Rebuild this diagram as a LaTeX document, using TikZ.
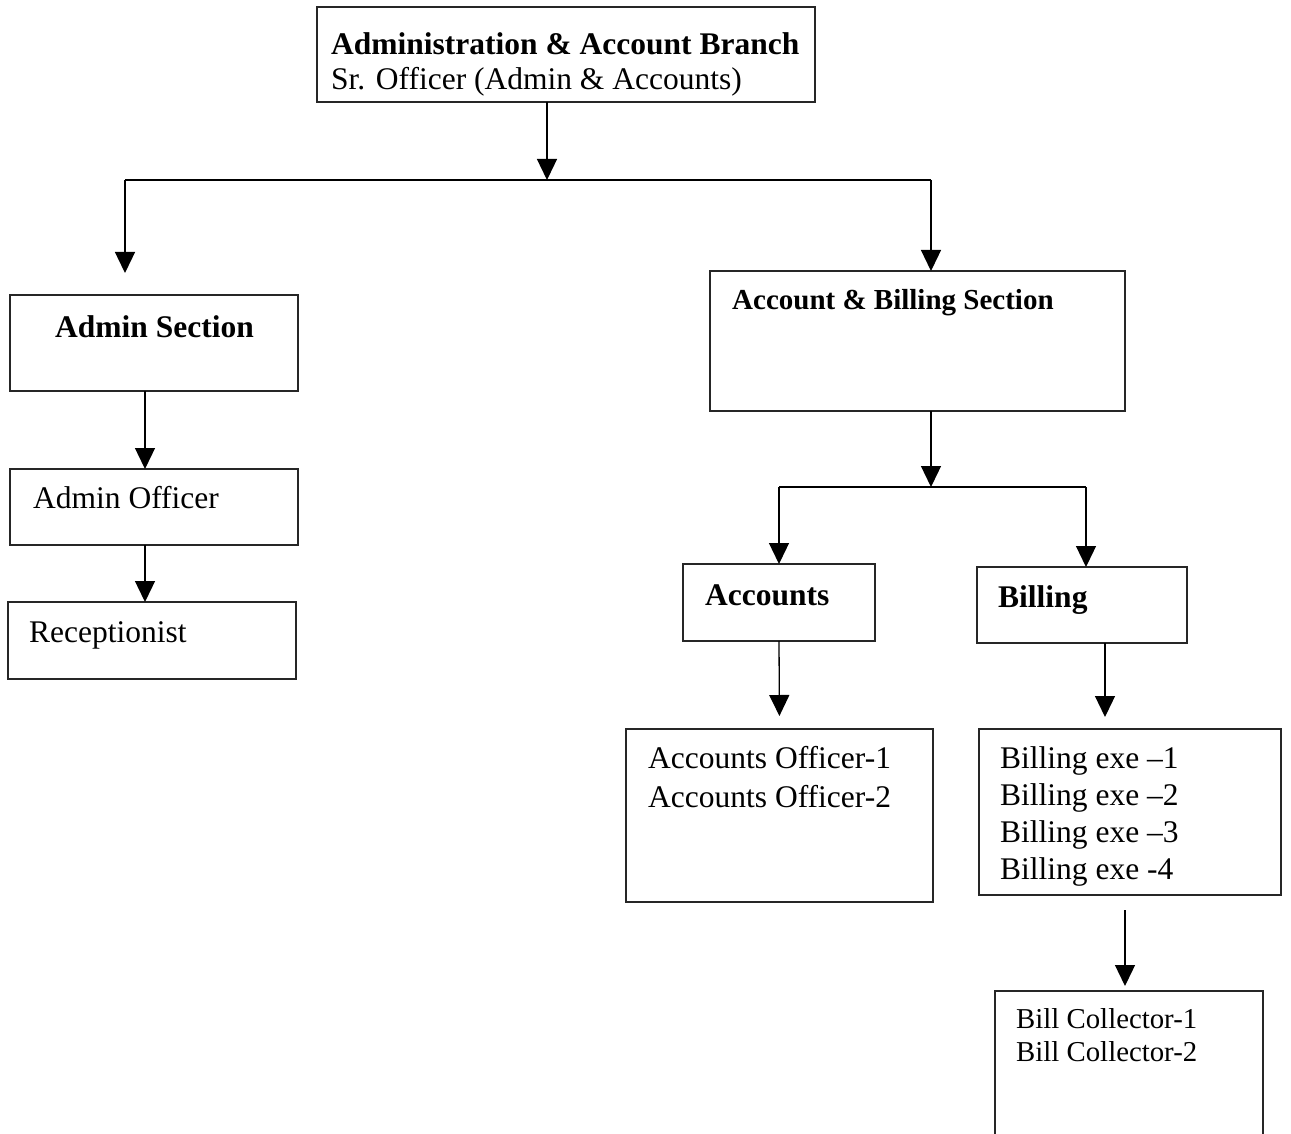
\documentclass[tikz,border=0pt]{standalone}
\usepackage{fontspec}
\setmainfont{Liberation Serif}
\usetikzlibrary{arrows.meta}

\tikzset{
	box/.style={draw=black!85, line width=1.3pt, fill=none, inner sep=0pt, outer sep=0pt, anchor=north west},
	txt/.style={black, anchor=base west, inner sep=0pt, font=\fontsize{31.5}{37}\selectfont},
	midtxt/.style={black, anchor=base west, inner sep=0pt, font=\fontsize{29}{34}\selectfont},
	smalltxt/.style={black, anchor=base west, inner sep=0pt, font=\fontsize{28.8}{33}\selectfont},
	arr/.style={draw=black, line width=1.3pt, -{Triangle[width=20pt,length=21pt]}},
	line/.style={draw=black, line width=1.3pt}
}

\begin{document}
\begin{tikzpicture}[x=1pt, y=-1pt]
		\useasboundingbox (0,0) rectangle (1291,1134);
		\clip (0,0) rectangle (1291,1134);
		% boxes
		\node[box, minimum width=498pt, minimum height=95pt] (branch) at (317,7) {};
		\node[box, minimum width=288pt, minimum height=96pt] (adminsec) at (10,295) {};
		\node[box, minimum width=288pt, minimum height=76pt] (adminoff) at (10,469) {};
		\node[box, minimum width=288pt, minimum height=77pt] (recept) at (8,602) {};
		\node[box, minimum width=415pt, minimum height=140pt] (billsec) at (710,271) {};
		\node[box, minimum width=192pt, minimum height=77pt] (accounts) at (683,564) {};
		\node[box, minimum width=210pt, minimum height=76pt] (billing) at (977,567) {};
		\node[box, minimum width=307pt, minimum height=173pt] (accoff) at (626,729) {};
		\node[box, minimum width=302pt, minimum height=166pt] (billexe) at (979,729) {};
		\node[box, minimum width=268pt, minimum height=170pt] (collector) at (995,991) {};
		% texts
		\node[txt] (branchtitle) at (331,55) {\textbf{Administration \& Account Branch}};
		\node[txt] (branchofficer) at (331,90) {Sr. Officer (Admin \& Accounts)};
		\node[txt] (adminsectitle) at (55,337) {\textbf{Admin Section}};
		\node[txt] (adminofftitle) at (33,508) {Admin Officer};
		\node[txt] (recepttitle) at (29,642) {Receptionist};
		\node[midtxt] (billsectitle) at (732,309) {\textbf{Account \& Billing Section}};
		\node[txt] (accountstitle) at (705,605) {\textbf{Accounts}};
		\node[txt] (billingtitle) at (998,607) {\textbf{Billing}};
		\node[txt] (accoffa) at (648,768) {Accounts Officer-1};
		\node[txt] (accoffb) at (648,807) {Accounts Officer-2};
		\node[txt] (exea) at (1000,768) {Billing exe --1};
		\node[txt] (exeb) at (1000,805) {Billing exe --2};
		\node[txt] (exec) at (1000,842) {Billing exe --3};
		\node[txt] (exed) at (1000,879) {Billing exe -4};
		\node[smalltxt] (collectora) at (1016,1028) {Bill Collector-1};
		\node[smalltxt] (collectorb) at (1016,1061) {Bill Collector-2};
		% junctions
		\coordinate (jtop) at (547,180);
		\coordinate (jleft) at (125,180);
		\coordinate (jright) at (931,180);
		\coordinate (jmid) at (931,487);
		\coordinate (jacc) at (779,487);
		\coordinate (jbill) at (1086,487);
		% connectors
		\draw[arr] (branch.south -| jtop) -- (jtop);
		\draw[line] (jleft) -- (jright);
		\draw[arr, shorten >=22pt] (jleft) -- (adminsec.north -| jleft);
		\draw[arr] (jright) -- (billsec.north -| jright);
		\draw[arr] ([xshift=-9pt]adminsec.south) -- ([xshift=-9pt]adminsec.south |- adminoff.north);
		\draw[arr] ([xshift=-9pt]adminoff.south) -- ([xshift=-9pt]adminoff.south |- recept.north);
		\draw[arr] (billsec.south -| jmid) -- (jmid);
		\draw[line] (jacc) -- (jbill);
		\draw[arr] (jacc) -- (accounts.north -| jacc);
		\draw[arr] (jbill) -- (billing.north -| jbill);
		\draw[arr, shorten >=13pt] (accounts.south) -- (accoff.north);
		\draw[arr, shorten >=12pt] ([xshift=23pt]billing.south) -- ([xshift=23pt]billing.south |- billexe.north);
		\draw[arr, shorten <=15pt, shorten >=5pt] ([xshift=-5pt]billexe.south) -- ([xshift=-5pt]billexe.south |- collector.north);
	\end{tikzpicture}
\end{document}
